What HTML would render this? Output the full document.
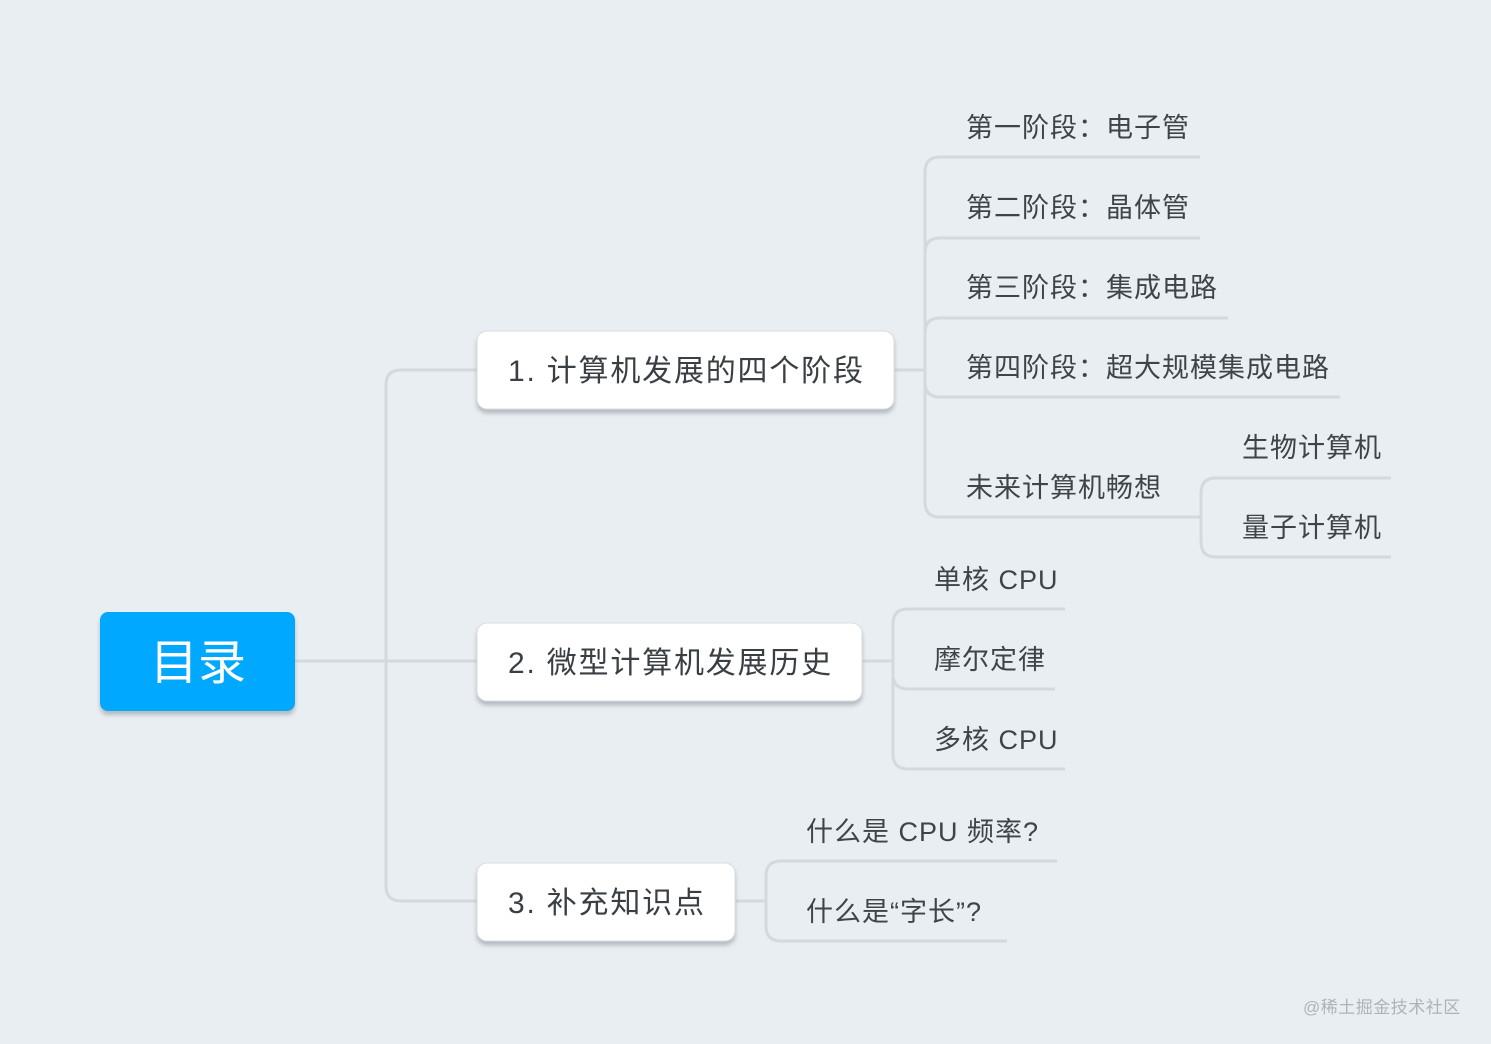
<!DOCTYPE html>
<html><head><meta charset="utf-8"><style>
html,body{margin:0;padding:0;background:#e8eef2;}
svg{display:block;}
text{font-family:"Liberation Sans","Noto Sans CJK SC",sans-serif;}
</style></head><body>
<svg width="1491" height="1044" viewBox="0 0 1491 1044" xmlns="http://www.w3.org/2000/svg">
<defs>
<filter id="sh" x="-10%" y="-20%" width="120%" height="150%">
<feDropShadow dx="0" dy="4" stdDeviation="2" flood-color="#8a9299" flood-opacity="0.55"/>
</filter>
</defs>
<rect width="1491" height="1044" fill="#e8eef2"/>
<g fill="none" stroke="#d4d9de" stroke-width="3">
<path d="M295 661 H477"/>
<path d="M386 661 V385 Q386 370 401 370 H477"/>
<path d="M386 661 V886 Q386 901 401 901 H477"/>
<path d="M894 370 H925"/>
<path d="M925 370 V172 Q925 157 940 157 H1200"/>
<path d="M925 370 V253 Q925 238 940 238 H1200"/>
<path d="M925 370 V333 Q925 318 940 318 H1228"/>
<path d="M925 370 V382 Q925 397 940 397 H1340"/>
<path d="M925 370 V502 Q925 517 940 517 H1201"/>
<path d="M1201 517 V493 Q1201 478 1216 478 H1391"/>
<path d="M1201 517 V542 Q1201 557 1216 557 H1391"/>
<path d="M862 661 H893"/>
<path d="M893 661 V624 Q893 609 908 609 H1065"/>
<path d="M893 661 V674 Q893 689 908 689 H1055"/>
<path d="M893 661 V754 Q893 769 908 769 H1065"/>
<path d="M735 901 H766"/>
<path d="M766 901 V876 Q766 861 781 861 H1057"/>
<path d="M766 901 V926 Q766 941 781 941 H1007"/>
</g>
<rect x="100" y="612" width="195" height="99" rx="8" fill="#00a8ff" filter="url(#sh)"/>
<text x="198" y="679" font-size="48" fill="#fff" text-anchor="middle">目录</text>
<g filter="url(#sh)" fill="#fff" stroke="#d8dde2" stroke-width="1">
<rect x="477" y="331" width="417" height="78" rx="10"/>
<rect x="477" y="623" width="385" height="78" rx="10"/>
<rect x="477" y="863" width="258" height="78" rx="10"/>
</g>
<g font-size="30" fill="#3a3f44" letter-spacing="1.8">
<text x="508" y="381">1. 计算机发展的四个阶段</text>
<text x="508" y="673">2. 微型计算机发展历史</text>
<text x="508" y="913">3. 补充知识点</text>
</g>
<g font-size="27" fill="#3f4448" letter-spacing="1">
<text x="966" y="137">第一阶段：电子管</text>
<text x="966" y="217">第二阶段：晶体管</text>
<text x="966" y="297">第三阶段：集成电路</text>
<text x="966" y="377">第四阶段：超大规模集成电路</text>
<text x="966" y="497">未来计算机畅想</text>
<text x="1242" y="457">生物计算机</text>
<text x="1242" y="537">量子计算机</text>
<text x="934" y="589">单核 CPU</text>
<text x="934" y="669">摩尔定律</text>
<text x="934" y="749">多核 CPU</text>
<text x="806" y="841">什么是 CPU 频率?</text>
<text x="806" y="921">什么是“字长”?</text>
</g>
<text x="1303" y="1013" font-size="17" fill="#adb3b8" letter-spacing="0.5">@稀土掘金技术社区</text>
</svg>
</body></html>
